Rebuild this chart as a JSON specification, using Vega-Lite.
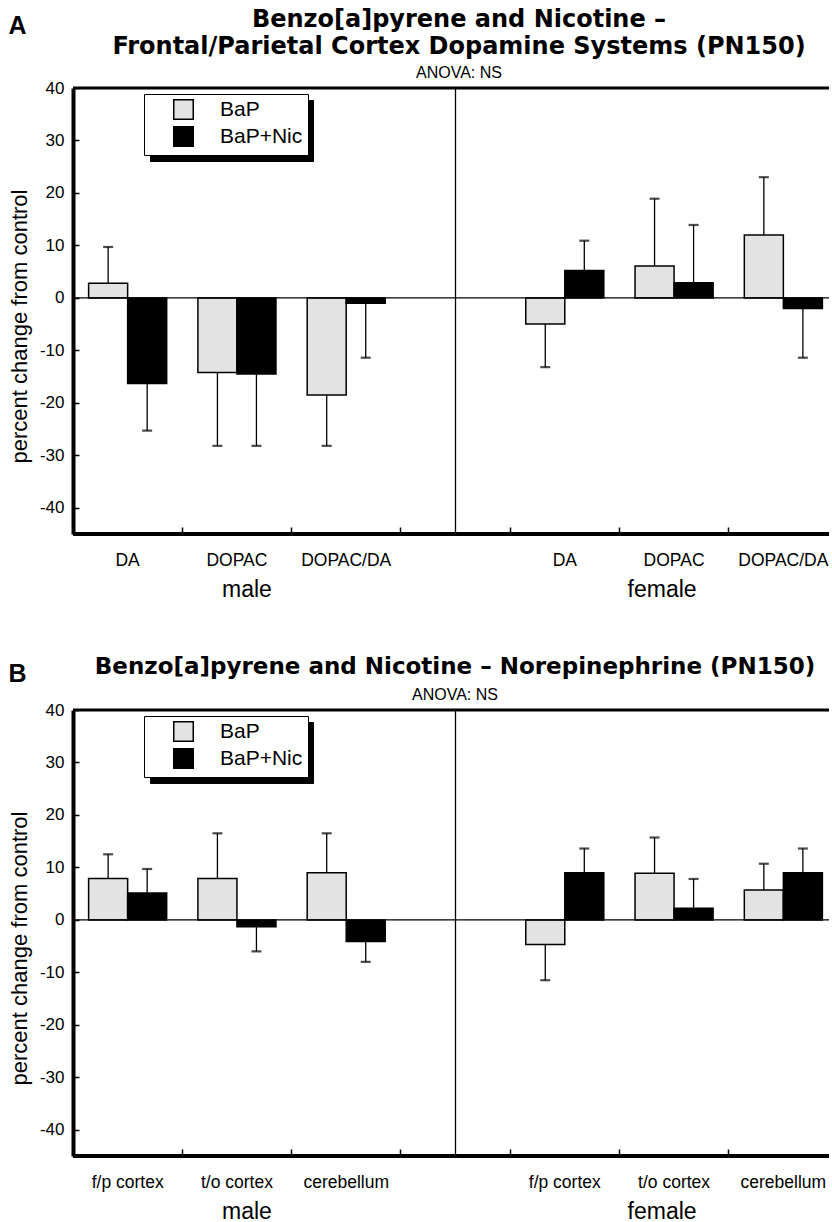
{
  "$schema": "https://vega.github.io/schema/vega-lite/v6.json",
  "background": "white",
  "padding": {"left": 8, "top": 8, "right": 0, "bottom": 0},
  "spacing": 53,
  "config": {
    "view": {"stroke": null},
    "font": "Liberation Sans",
    "axis": {"labelColor": "black", "titleColor": "black", "domainColor": "black", "tickColor": "black", "labelFont": "Liberation Sans", "titleFont": "Liberation Sans"},
    "legend": {"labelFont": "Liberation Sans", "labelColor": "black"},
    "title": {"color": "black", "font": "DejaVu Sans", "subtitleColor": "black", "subtitleFont": "Liberation Sans"},
    "text": {"font": "Liberation Sans", "color": "black"}
  },
  "datasets": {
    "a": [
      {"slot": "m-DA", "group": "BaP", "value": 2.8, "err": 9.7},
      {"slot": "m-DA", "group": "BaP+Nic", "value": -16.3, "err": -25.3},
      {"slot": "m-DOPAC", "group": "BaP", "value": -14.2, "err": -28.2},
      {"slot": "m-DOPAC", "group": "BaP+Nic", "value": -14.5, "err": -28.2},
      {"slot": "m-DOPAC/DA", "group": "BaP", "value": -18.5, "err": -28.2},
      {"slot": "m-DOPAC/DA", "group": "BaP+Nic", "value": -1.0, "err": -11.4},
      {"slot": "f-DA", "group": "BaP", "value": -5.0, "err": -13.2},
      {"slot": "f-DA", "group": "BaP+Nic", "value": 5.2, "err": 10.9},
      {"slot": "f-DOPAC", "group": "BaP", "value": 6.1, "err": 18.9},
      {"slot": "f-DOPAC", "group": "BaP+Nic", "value": 2.9, "err": 13.9},
      {"slot": "f-DOPAC/DA", "group": "BaP", "value": 12.0, "err": 23.0},
      {"slot": "f-DOPAC/DA", "group": "BaP+Nic", "value": -2.0, "err": -11.4}
    ],
    "b": [
      {"slot": "m-f/p cortex", "group": "BaP", "value": 7.9, "err": 12.5},
      {"slot": "m-f/p cortex", "group": "BaP+Nic", "value": 5.1, "err": 9.7},
      {"slot": "m-t/o cortex", "group": "BaP", "value": 7.9, "err": 16.5},
      {"slot": "m-t/o cortex", "group": "BaP+Nic", "value": -1.3, "err": -6.0},
      {"slot": "m-cerebellum", "group": "BaP", "value": 9.0, "err": 16.5},
      {"slot": "m-cerebellum", "group": "BaP+Nic", "value": -4.1, "err": -8.0},
      {"slot": "f-f/p cortex", "group": "BaP", "value": -4.7, "err": -11.5},
      {"slot": "f-f/p cortex", "group": "BaP+Nic", "value": 9.0, "err": 13.6},
      {"slot": "f-t/o cortex", "group": "BaP", "value": 8.9, "err": 15.7},
      {"slot": "f-t/o cortex", "group": "BaP+Nic", "value": 2.2, "err": 7.8},
      {"slot": "f-cerebellum", "group": "BaP", "value": 5.7, "err": 10.7},
      {"slot": "f-cerebellum", "group": "BaP+Nic", "value": 9.0, "err": 13.6}
    ],
    "ga": [
      {"slot": "m-DOPAC", "label": "male"},
      {"slot": "f-DOPAC", "label": "female"}
    ],
    "gb": [
      {"slot": "m-t/o cortex", "label": "male"},
      {"slot": "f-t/o cortex", "label": "female"}
    ]
  },
  "resolve": {"scale": {"color": "independent", "fill": "independent"}, "legend": {"color": "independent", "fill": "independent"}},
  "vconcat": [
    {
      "title": {"text": "A", "anchor": "start", "frame": "bounds", "font": "Liberation Sans", "fontSize": 25, "fontWeight": "bold", "offset": -31},
      "resolve": {"scale": {"color": "independent", "fill": "independent"}, "legend": {"color": "independent", "fill": "independent"}},
      "vconcat": [
        {
          "width": 756,
          "height": 446,
          "title": {"text": ["Benzo[a]pyrene and Nicotine –", "Frontal/Parietal Cortex Dopamine Systems (PN150)"], "subtitle": "ANOVA: NS", "fontSize": 24, "fontWeight": "bold", "lineHeight": 27, "subtitleFontSize": 16, "subtitlePadding": 6, "offset": -2, "anchor": "middle", "dx": 8},
          "layer": [
            {
              "data": {"name": "a"},
              "mark": {"type": "bar", "stroke": "black", "strokeWidth": 1.5},
              "encoding": {
                "x": {"field": "slot", "type": "nominal", "sort": null,
                  "scale": {"domain": ["m-DA", "m-DOPAC", "m-DOPAC/DA", "x-", "f-DA", "f-DOPAC", "f-DOPAC/DA"], "range": [0, 765], "paddingInner": 0, "paddingOuter": 0},
                  "axis": {"title": null, "domain": false, "ticks": true, "tickSize": -7, "tickWidth": 1.5, "bandPosition": 0, "labelOffset": 0, "labelPadding": 24, "labelFontSize": 17.5, "labelAngle": 0, "labelOverlap": false, "labelExpr": "slice(datum.value, 2)"}},
                "xOffset": {"field": "group", "type": "nominal", "scale": {"domain": ["BaP", "BaP+Nic"], "paddingInner": 0, "paddingOuter": 0.4}},
                "y": {"field": "value", "type": "quantitative", "scale": {"domain": [-45, 40], "nice": false, "zero": false},
                  "axis": {"title": "percent change from control", "values": [-40, -35, -30, -25, -20, -15, -10, -5, 0, 5, 10, 15, 20, 25, 30, 35, 40], "labelExpr": "datum.value % 10 == 0 ? '' + datum.value : ''", "tickSize": -6, "tickWidth": 1.5, "domainWidth": 4, "labelPadding": 15, "labelFontSize": 17, "titleFontSize": 22, "titleFontWeight": "normal", "titlePadding": 8, "titleY": 238, "grid": false}},
                "y2": {"datum": 0},
                "fill": {"field": "group", "type": "nominal", "scale": {"domain": ["BaP", "BaP+Nic"], "range": ["#e3e3e3", "#000000"]},
                  "legend": {"title": null, "orient": "none", "legendX": 71, "legendY": 6, "fillColor": "white", "strokeColor": "black", "padding": 5, "symbolType": "square", "symbolSize": 380, "symbolOpacity": 1, "symbolStrokeColor": "black", "symbolStrokeWidth": 1.5, "symbolOffset": 24, "labelFontSize": 21, "labelOffset": 26, "rowPadding": 0, "zindex": 2}}
              }
            },
            {
              "data": {"name": "a"},
              "mark": {"type": "rule", "color": "black", "strokeWidth": 1.3},
              "encoding": {
                "x": {"field": "slot", "type": "nominal", "sort": null,
                  "scale": {"domain": ["m-DA", "m-DOPAC", "m-DOPAC/DA", "x-", "f-DA", "f-DOPAC", "f-DOPAC/DA"], "range": [0, 765], "paddingInner": 0, "paddingOuter": 0},
                  "axis": {"title": null, "domain": false, "ticks": true, "tickSize": -7, "tickWidth": 1.5, "bandPosition": 0, "labelOffset": 0, "labelPadding": 24, "labelFontSize": 17.5, "labelAngle": 0, "labelOverlap": false, "labelExpr": "slice(datum.value, 2)"}},
                "xOffset": {"field": "group", "type": "nominal", "scale": {"domain": ["BaP", "BaP+Nic"], "paddingInner": 0, "paddingOuter": 0.4}},
                "y": {"field": "value", "type": "quantitative"},
                "y2": {"field": "err"}
              }
            },
            {
              "data": {"name": "a"},
              "mark": {"type": "tick", "orient": "horizontal", "size": 10, "thickness": 2.2},
              "encoding": {
                "x": {"field": "slot", "type": "nominal", "sort": null,
                  "scale": {"domain": ["m-DA", "m-DOPAC", "m-DOPAC/DA", "x-", "f-DA", "f-DOPAC", "f-DOPAC/DA"], "range": [0, 765], "paddingInner": 0, "paddingOuter": 0},
                  "axis": {"title": null, "domain": false, "ticks": true, "tickSize": -7, "tickWidth": 1.5, "bandPosition": 0, "labelOffset": 0, "labelPadding": 24, "labelFontSize": 17.5, "labelAngle": 0, "labelOverlap": false, "labelExpr": "slice(datum.value, 2)"}},
                "xOffset": {"field": "group", "type": "nominal", "scale": {"domain": ["BaP", "BaP+Nic"], "paddingInner": 0, "paddingOuter": 0.4}},
                "y": {"field": "err", "type": "quantitative"},
                "color": {"field": "group", "type": "nominal", "scale": {"range": ["black", "black"]},
                  "legend": {"title": null, "orient": "none", "legendX": 77, "legendY": 12, "fillColor": "black", "strokeColor": "black", "padding": 5, "symbolType": "square", "symbolSize": 380, "symbolFillColor": "black", "symbolStrokeColor": "black", "symbolStrokeWidth": 1.5, "symbolOffset": 24, "labelFontSize": 21, "labelOffset": 108, "labelExpr": "''", "rowPadding": 0, "labelColor": "black", "zindex": 1}}
              }
            },
            {
              "data": {"values": [{}]},
              "mark": {"type": "rule", "color": "black", "strokeWidth": 1.3},
              "encoding": {"y": {"datum": 0}}
            },
            {
              "data": {"values": [{}]},
              "mark": {"type": "rule", "color": "black", "strokeWidth": 3},
              "encoding": {"y": {"datum": 40}}
            },
            {
              "data": {"values": [{}]},
              "mark": {"type": "rule", "color": "black", "strokeWidth": 4},
              "encoding": {"y": {"datum": -45}}
            },
            {
              "data": {"values": [{"slot": "x-"}]},
              "mark": {"type": "rule", "color": "black", "strokeWidth": 1.3},
              "encoding": {
                "x": {"field": "slot", "type": "nominal", "sort": null,
                  "scale": {"domain": ["m-DA", "m-DOPAC", "m-DOPAC/DA", "x-", "f-DA", "f-DOPAC", "f-DOPAC/DA"], "range": [0, 765], "paddingInner": 0, "paddingOuter": 0},
                  "axis": {"title": null, "domain": false, "ticks": true, "tickSize": -7, "tickWidth": 1.5, "bandPosition": 0, "labelOffset": 0, "labelPadding": 24, "labelFontSize": 17.5, "labelAngle": 0, "labelOverlap": false, "labelExpr": "slice(datum.value, 2)"}}
              }
            },
            {
              "data": {"name": "ga"},
              "transform": [{"filter": "datum.label == 'male'"}],
              "mark": {"type": "text", "fontSize": 23, "baseline": "middle", "align": "center", "dx": 10},
              "encoding": {
                "x": {"field": "slot", "type": "nominal", "sort": null,
                  "scale": {"domain": ["m-DA", "m-DOPAC", "m-DOPAC/DA", "x-", "f-DA", "f-DOPAC", "f-DOPAC/DA"], "range": [0, 765], "paddingInner": 0, "paddingOuter": 0},
                  "axis": {"title": null, "domain": false, "ticks": true, "tickSize": -7, "tickWidth": 1.5, "bandPosition": 0, "labelOffset": 0, "labelPadding": 24, "labelFontSize": 17.5, "labelAngle": 0, "labelOverlap": false, "labelExpr": "slice(datum.value, 2)"}},
                "y": {"datum": -55.7},
                "text": {"field": "label"}
              }
            },
            {
              "data": {"name": "ga"},
              "transform": [{"filter": "datum.label == 'female'"}],
              "mark": {"type": "text", "fontSize": 23, "baseline": "middle", "align": "center", "dx": -12},
              "encoding": {
                "x": {"field": "slot", "type": "nominal", "sort": null,
                  "scale": {"domain": ["m-DA", "m-DOPAC", "m-DOPAC/DA", "x-", "f-DA", "f-DOPAC", "f-DOPAC/DA"], "range": [0, 765], "paddingInner": 0, "paddingOuter": 0},
                  "axis": {"title": null, "domain": false, "ticks": true, "tickSize": -7, "tickWidth": 1.5, "bandPosition": 0, "labelOffset": 0, "labelPadding": 24, "labelFontSize": 17.5, "labelAngle": 0, "labelOverlap": false, "labelExpr": "slice(datum.value, 2)"}},
                "y": {"datum": -55.7},
                "text": {"field": "label"}
              }
            }
          ]
        }
      ]
    },
    {
      "title": {"text": "B", "anchor": "start", "frame": "bounds", "font": "Liberation Sans", "fontSize": 25, "fontWeight": "bold", "offset": -31},
      "resolve": {"scale": {"color": "independent", "fill": "independent"}, "legend": {"color": "independent", "fill": "independent"}},
      "vconcat": [
        {
          "width": 756,
          "height": 446,
          "title": {"text": "Benzo[a]pyrene and Nicotine – Norepinephrine (PN150)", "subtitle": "ANOVA: NS", "fontSize": 23, "fontWeight": "bold", "subtitleFontSize": 16, "subtitlePadding": 8, "offset": -2, "anchor": "middle", "dx": 4},
          "layer": [
            {
              "data": {"name": "b"},
              "mark": {"type": "bar", "stroke": "black", "strokeWidth": 1.5},
              "encoding": {
                "x": {"field": "slot", "type": "nominal", "sort": null,
                  "scale": {"domain": ["m-f/p cortex", "m-t/o cortex", "m-cerebellum", "x-", "f-f/p cortex", "f-t/o cortex", "f-cerebellum"], "range": [0, 765], "paddingInner": 0, "paddingOuter": 0},
                  "axis": {"title": null, "domain": false, "ticks": true, "tickSize": -7, "tickWidth": 1.5, "bandPosition": 0, "labelOffset": 0, "labelPadding": 24, "labelFontSize": 17.5, "labelAngle": 0, "labelOverlap": false, "labelExpr": "slice(datum.value, 2)"}},
                "xOffset": {"field": "group", "type": "nominal", "scale": {"domain": ["BaP", "BaP+Nic"], "paddingInner": 0, "paddingOuter": 0.4}},
                "y": {"field": "value", "type": "quantitative", "scale": {"domain": [-45, 40], "nice": false, "zero": false},
                  "axis": {"title": "percent change from control", "values": [-40, -35, -30, -25, -20, -15, -10, -5, 0, 5, 10, 15, 20, 25, 30, 35, 40], "labelExpr": "datum.value % 10 == 0 ? '' + datum.value : ''", "tickSize": -6, "tickWidth": 1.5, "domainWidth": 4, "labelPadding": 15, "labelFontSize": 17, "titleFontSize": 22, "titleFontWeight": "normal", "titlePadding": 8, "titleY": 238, "grid": false}},
                "y2": {"datum": 0},
                "fill": {"field": "group", "type": "nominal", "scale": {"domain": ["BaP", "BaP+Nic"], "range": ["#e3e3e3", "#000000"]},
                  "legend": {"title": null, "orient": "none", "legendX": 71, "legendY": 6, "fillColor": "white", "strokeColor": "black", "padding": 5, "symbolType": "square", "symbolSize": 380, "symbolOpacity": 1, "symbolStrokeColor": "black", "symbolStrokeWidth": 1.5, "symbolOffset": 24, "labelFontSize": 21, "labelOffset": 26, "rowPadding": 0, "zindex": 2}}
              }
            },
            {
              "data": {"name": "b"},
              "mark": {"type": "rule", "color": "black", "strokeWidth": 1.3},
              "encoding": {
                "x": {"field": "slot", "type": "nominal", "sort": null,
                  "scale": {"domain": ["m-f/p cortex", "m-t/o cortex", "m-cerebellum", "x-", "f-f/p cortex", "f-t/o cortex", "f-cerebellum"], "range": [0, 765], "paddingInner": 0, "paddingOuter": 0},
                  "axis": {"title": null, "domain": false, "ticks": true, "tickSize": -7, "tickWidth": 1.5, "bandPosition": 0, "labelOffset": 0, "labelPadding": 24, "labelFontSize": 17.5, "labelAngle": 0, "labelOverlap": false, "labelExpr": "slice(datum.value, 2)"}},
                "xOffset": {"field": "group", "type": "nominal", "scale": {"domain": ["BaP", "BaP+Nic"], "paddingInner": 0, "paddingOuter": 0.4}},
                "y": {"field": "value", "type": "quantitative"},
                "y2": {"field": "err"}
              }
            },
            {
              "data": {"name": "b"},
              "mark": {"type": "tick", "orient": "horizontal", "size": 10, "thickness": 2.2},
              "encoding": {
                "x": {"field": "slot", "type": "nominal", "sort": null,
                  "scale": {"domain": ["m-f/p cortex", "m-t/o cortex", "m-cerebellum", "x-", "f-f/p cortex", "f-t/o cortex", "f-cerebellum"], "range": [0, 765], "paddingInner": 0, "paddingOuter": 0},
                  "axis": {"title": null, "domain": false, "ticks": true, "tickSize": -7, "tickWidth": 1.5, "bandPosition": 0, "labelOffset": 0, "labelPadding": 24, "labelFontSize": 17.5, "labelAngle": 0, "labelOverlap": false, "labelExpr": "slice(datum.value, 2)"}},
                "xOffset": {"field": "group", "type": "nominal", "scale": {"domain": ["BaP", "BaP+Nic"], "paddingInner": 0, "paddingOuter": 0.4}},
                "y": {"field": "err", "type": "quantitative"},
                "color": {"field": "group", "type": "nominal", "scale": {"range": ["black", "black"]},
                  "legend": {"title": null, "orient": "none", "legendX": 77, "legendY": 12, "fillColor": "black", "strokeColor": "black", "padding": 5, "symbolType": "square", "symbolSize": 380, "symbolFillColor": "black", "symbolStrokeColor": "black", "symbolStrokeWidth": 1.5, "symbolOffset": 24, "labelFontSize": 21, "labelOffset": 108, "labelExpr": "''", "rowPadding": 0, "labelColor": "black", "zindex": 1}}
              }
            },
            {
              "data": {"values": [{}]},
              "mark": {"type": "rule", "color": "black", "strokeWidth": 1.3},
              "encoding": {"y": {"datum": 0}}
            },
            {
              "data": {"values": [{}]},
              "mark": {"type": "rule", "color": "black", "strokeWidth": 3},
              "encoding": {"y": {"datum": 40}}
            },
            {
              "data": {"values": [{}]},
              "mark": {"type": "rule", "color": "black", "strokeWidth": 4},
              "encoding": {"y": {"datum": -45}}
            },
            {
              "data": {"values": [{"slot": "x-"}]},
              "mark": {"type": "rule", "color": "black", "strokeWidth": 1.3},
              "encoding": {
                "x": {"field": "slot", "type": "nominal", "sort": null,
                  "scale": {"domain": ["m-f/p cortex", "m-t/o cortex", "m-cerebellum", "x-", "f-f/p cortex", "f-t/o cortex", "f-cerebellum"], "range": [0, 765], "paddingInner": 0, "paddingOuter": 0},
                  "axis": {"title": null, "domain": false, "ticks": true, "tickSize": -7, "tickWidth": 1.5, "bandPosition": 0, "labelOffset": 0, "labelPadding": 24, "labelFontSize": 17.5, "labelAngle": 0, "labelOverlap": false, "labelExpr": "slice(datum.value, 2)"}}
              }
            },
            {
              "data": {"name": "gb"},
              "transform": [{"filter": "datum.label == 'male'"}],
              "mark": {"type": "text", "fontSize": 23, "baseline": "middle", "align": "center", "dx": 10},
              "encoding": {
                "x": {"field": "slot", "type": "nominal", "sort": null,
                  "scale": {"domain": ["m-f/p cortex", "m-t/o cortex", "m-cerebellum", "x-", "f-f/p cortex", "f-t/o cortex", "f-cerebellum"], "range": [0, 765], "paddingInner": 0, "paddingOuter": 0},
                  "axis": {"title": null, "domain": false, "ticks": true, "tickSize": -7, "tickWidth": 1.5, "bandPosition": 0, "labelOffset": 0, "labelPadding": 24, "labelFontSize": 17.5, "labelAngle": 0, "labelOverlap": false, "labelExpr": "slice(datum.value, 2)"}},
                "y": {"datum": -55.7},
                "text": {"field": "label"}
              }
            },
            {
              "data": {"name": "gb"},
              "transform": [{"filter": "datum.label == 'female'"}],
              "mark": {"type": "text", "fontSize": 23, "baseline": "middle", "align": "center", "dx": -12},
              "encoding": {
                "x": {"field": "slot", "type": "nominal", "sort": null,
                  "scale": {"domain": ["m-f/p cortex", "m-t/o cortex", "m-cerebellum", "x-", "f-f/p cortex", "f-t/o cortex", "f-cerebellum"], "range": [0, 765], "paddingInner": 0, "paddingOuter": 0},
                  "axis": {"title": null, "domain": false, "ticks": true, "tickSize": -7, "tickWidth": 1.5, "bandPosition": 0, "labelOffset": 0, "labelPadding": 24, "labelFontSize": 17.5, "labelAngle": 0, "labelOverlap": false, "labelExpr": "slice(datum.value, 2)"}},
                "y": {"datum": -55.7},
                "text": {"field": "label"}
              }
            }
          ]
        }
      ]
    }
  ]
}
